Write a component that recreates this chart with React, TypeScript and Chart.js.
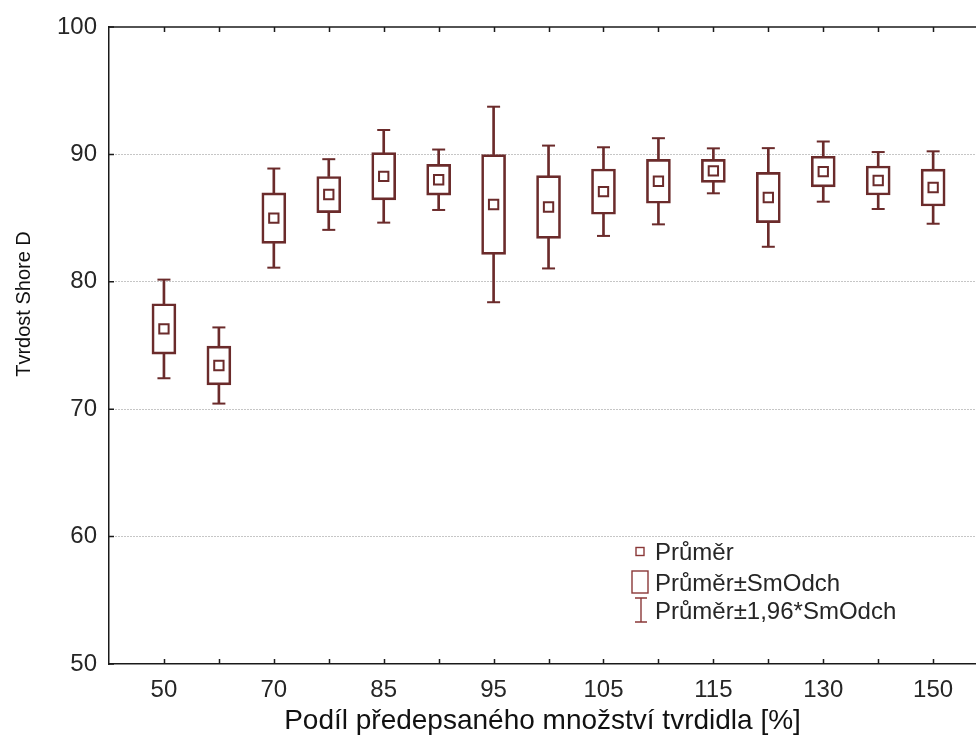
import React, { useEffect, useRef } from 'react';
import { Chart, registerables } from 'chart.js';

Chart.register(...registerables);

// ---- data ----
const categories = ['50', '60', '70', '80', '85', '90', '95', '100', '105', '110', '115', '120', '130', '140', '150'];
const means = [76.3, 73.43, 85.0, 86.85, 88.28, 88.01, 86.07, 85.87, 87.08, 87.89, 88.71, 86.62, 88.65, 87.95, 87.4];
const sds = [1.975, 1.525, 1.985, 1.415, 1.855, 1.21, 3.915, 2.46, 1.775, 1.725, 0.9, 1.975, 1.205, 1.14, 1.45];
const whiskerFactor = 1.96;
const yTicks = [50, 60, 70, 80, 90, 100];
const legendLabels = ['Průměr', 'Průměr±SmOdch', 'Průměr±1,96*SmOdch'];
const xTitle = 'Podíl předepsaného množství tvrdidla [%]';
const yTitle = 'Tvrdost Shore D';

// ---- styles ----
const FONT = "'Liberation Sans', Arial, sans-serif";
const LINE = '#6b2b2b';
const LEGEND_LINE = '#8a3838';
const AXIS = '#1a1a1a';
const GRID = '#8c8c8c';
const TEXT = '#262626';
const TICK = 5;

const xs = categories.map((_, i) => i + 1);

const framePlugin = {
  id: 'frame',
  afterDraw(chart: any) {
    const { ctx, chartArea, scales } = chart;
    const { left, right, top, bottom } = chartArea;
    const x = scales.x;
    const y = scales.y;
    ctx.save();
    ctx.strokeStyle = AXIS;
    ctx.lineWidth = 1.5;
    ctx.beginPath();
    ctx.moveTo(left - 0.75, top);
    ctx.lineTo(right, top);
    ctx.stroke();
    ctx.beginPath();
    xs.forEach((v) => {
      const px = Math.round(x.getPixelForValue(v)) + 0.5;
      ctx.moveTo(px, bottom);
      ctx.lineTo(px, bottom - TICK);
      ctx.moveTo(px, top);
      ctx.lineTo(px, top + TICK);
    });
    yTicks.forEach((v) => {
      const py = y.getPixelForValue(v);
      ctx.moveTo(left, py);
      ctx.lineTo(left + TICK, py);
    });
    ctx.stroke();

    // y axis title (placed as in the reference, above the axis centre)
    ctx.save();
    ctx.translate(24, top + 277);
    ctx.rotate(-Math.PI / 2);
    ctx.fillStyle = '#111';
    ctx.font = `20px ${FONT}`;
    ctx.textAlign = 'center';
    ctx.textBaseline = 'middle';
    ctx.fillText(yTitle, 0, 0);
    ctx.restore();

    // legend inside the plot area
    const cx = left + 531;
    const baselines = [bottom - 104, bottom - 73, bottom - 45];
    const textX = left + 546;
    ctx.strokeStyle = LEGEND_LINE;
    ctx.lineWidth = 1.4;
    ctx.strokeRect(cx - 4, baselines[0] - 12.5, 8, 8);
    ctx.strokeRect(cx - 8, baselines[1] - 20, 16, 22);
    const wTop = baselines[2] - 21;
    const wBot = baselines[2] + 3;
    ctx.beginPath();
    ctx.moveTo(cx + 1, wTop);
    ctx.lineTo(cx + 1, wBot);
    ctx.moveTo(cx - 5, wTop);
    ctx.lineTo(cx + 7, wTop);
    ctx.moveTo(cx - 5, wBot);
    ctx.lineTo(cx + 7, wBot);
    ctx.stroke();
    ctx.fillStyle = TEXT;
    ctx.font = `24px ${FONT}`;
    ctx.textAlign = 'left';
    ctx.textBaseline = 'alphabetic';
    legendLabels.forEach((t, i) => ctx.fillText(t, textX, baselines[i]));
    ctx.restore();
  },
};

export default function App() {
  const ref = useRef<HTMLCanvasElement | null>(null);

  useEffect(() => {
    document.body.style.margin = '0';
    document.body.style.overflow = 'hidden';
    Chart.defaults.font.family = FONT;
    const canvas = ref.current;
    if (!canvas) return;

    const boxData = xs.map((x, i) => ({ x, y: [means[i] - sds[i], means[i] + sds[i]] }));
    const upperStem = xs.map((x, i) => ({ x, y: [means[i] + sds[i], means[i] + whiskerFactor * sds[i]] }));
    const lowerStem = xs.map((x, i) => ({ x, y: [means[i] - whiskerFactor * sds[i], means[i] - sds[i]] }));
    const caps = xs.flatMap((x, i) => [
      { x, y: means[i] + whiskerFactor * sds[i] },
      { x, y: means[i] - whiskerFactor * sds[i] },
    ]);
    const meanPts = xs.map((x, i) => ({ x, y: means[i] }));

    const chart = new Chart(canvas, {
      type: 'bar',
      data: {
        datasets: [
          {
            type: 'bar',
            label: legendLabels[1],
            data: boxData as any,
            backgroundColor: 'rgba(255,255,255,0)',
            borderColor: LINE,
            borderWidth: 2,
            borderSkipped: false,
            barThickness: 24,
            grouped: false,
          } as any,
          {
            type: 'bar',
            label: 'upper',
            data: upperStem as any,
            backgroundColor: LINE,
            borderWidth: 0,
            barThickness: 2,
            grouped: false,
          } as any,
          {
            type: 'bar',
            label: 'lower',
            data: lowerStem as any,
            backgroundColor: LINE,
            borderWidth: 0,
            barThickness: 2,
            grouped: false,
          } as any,
          {
            type: 'scatter',
            label: legendLabels[2],
            data: caps as any,
            pointStyle: 'line',
            pointRadius: 6.5,
            borderColor: LINE,
            borderWidth: 2,
          } as any,
          {
            type: 'scatter',
            label: legendLabels[0],
            data: meanPts as any,
            pointStyle: 'rect',
            pointRadius: 6.6,
            borderColor: LINE,
            backgroundColor: 'rgba(255,255,255,0)',
            borderWidth: 2,
          } as any,
        ],
      },
      options: {
        responsive: false,
        animation: false,
        events: [],
        devicePixelRatio: 1,
        layout: { autoPadding: false, padding: { top: 27, right: 0, left: 0, bottom: 0 } },
        plugins: {
          legend: { display: false },
          tooltip: { enabled: false },
        },
        scales: {
          x: {
            type: 'linear',
            min: 0,
            max: 15.78,
            offset: false,
            grid: { display: false, drawTicks: false, offset: false },
            border: { display: true, color: AXIS, width: 1.5 },
            afterBuildTicks: (s: any) => {
              s.ticks = xs.map((v) => ({ value: v }));
            },
            afterFit: (s: any) => {
              s.height = 83;
              s.paddingLeft = 0;
              s.paddingRight = 0;
            },
            ticks: {
              autoSkip: false,
              maxRotation: 0,
              padding: 12,
              color: TEXT,
              font: { size: 24 },
              callback: (v: any) => {
                const i = Math.round(Number(v)) - 1;
                return i % 2 === 0 ? categories[i] : '';
              },
            },
            title: {
              display: true,
              text: xTitle,
              color: '#111',
              font: { size: 28 },
              padding: { top: 0, bottom: 9 },
            },
          },
          y: {
            type: 'linear',
            min: 50,
            max: 100,
            afterBuildTicks: (s: any) => {
              s.ticks = yTicks.map((v) => ({ value: v }));
            },
            afterFit: (s: any) => {
              s.width = 109;
              s.paddingTop = 0;
              s.paddingBottom = 0;
            },
            grid: {
              drawTicks: false,
              lineWidth: 1,
              color: (c: any) =>
                c.tick && (c.tick.value === 50 || c.tick.value === 100) ? 'rgba(0,0,0,0)' : GRID,
            },
            border: { display: true, color: AXIS, width: 1.5, dash: [1, 2] },
            ticks: { padding: 12, color: TEXT, font: { size: 24 } },
            title: { display: false },
          },
        },
      } as any,
      plugins: [framePlugin],
    });

    return () => chart.destroy();
  }, []);

  return (
    <div style={{ width: 976, height: 747 }}>
      <canvas ref={ref} width={976} height={747} style={{ display: 'block' }} />
    </div>
  );
}
